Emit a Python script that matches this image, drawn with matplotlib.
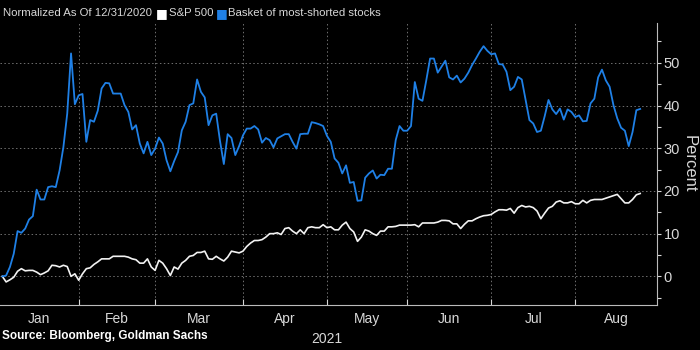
import matplotlib.pyplot as plt
import numpy as np

# normalized % change since 12/31/2020, one value per weekday
basket = [0, 0.2, 2.2, 5.3, 10.6, 10.2, 11.2, 13.3, 14.1, 20.3,
          18.0, 18.0, 20.9, 21.1, 20.9, 24.8, 30.3, 38.1, 52.2, 40.3,
          42.4, 42.7, 31.5, 36.6, 36.2, 38.8, 44.0, 45.3, 45.2, 42.8,
          42.8, 42.8, 40.1, 38.5, 34.4, 35.4, 31.1, 28.8, 31.5, 28.4,
          29.9, 32.5, 31.1, 27.2, 24.6, 27.0, 29.1, 34.2, 36.2, 40.1,
          40.5, 46.1, 43.2, 41.9, 35.4, 37.7, 38.1, 31.7, 26.3, 33.3,
          32.4, 28.4, 30.5, 33.0, 34.6, 34.6, 35.2, 34.4, 31.3, 32.4,
          31.9, 30.2, 32.3, 32.8, 33.3, 33.3, 31.5, 29.9, 33.3, 33.4,
          33.4, 36.1, 35.9, 35.6, 35.2, 32.9, 31.5, 27.6, 26.6, 24.1,
          26.0, 21.9, 22.1, 17.7, 17.8, 23.1, 24.1, 24.8, 22.9, 23.8,
          23.7, 25.2, 25.2, 31.9, 35.2, 34.1, 34.1, 35.2, 45.5, 41.6,
          41.1, 45.9, 51.0, 51.0, 47.7, 49.1, 50.5, 46.6, 46.1, 47.0,
          45.4, 46.3, 47.7, 49.5, 51.0, 52.6, 53.9, 52.8, 52.0, 52.2,
          49.7, 49.6, 47.9, 43.6, 44.4, 46.7, 46.1, 41.4, 36.6, 35.8,
          33.8, 34.1, 37.5, 41.3, 39.1, 38.0, 39.3, 36.7, 39.1, 38.5,
          37.3, 37.7, 36.3, 36.4, 40.5, 41.6, 46.6, 48.4, 45.9, 44.4,
          40.1, 37.0, 34.8, 34.1, 30.5, 33.8, 38.9, 39.2]

spx = [0, -1.3, -0.8, -0.2, 1.2, 1.8, 1.3, 1.4, 1.4, 1.0,
       0.4, 0.8, 1.3, 2.6, 2.5, 2.2, 2.6, 2.3, 0.0, 0.6,
       -0.9, 0.6, 1.8, 2.0, 2.8, 3.4, 4.1, 4.1, 4.1, 4.7,
       4.7, 4.7, 4.7, 4.5, 4.1, 3.9, 3.1, 3.1, 4.1, 2.2,
       1.4, 3.75, 3.1, 1.8, 0.2, 2.2, 1.7, 3.1, 3.75, 4.7,
       4.9, 5.6, 5.6, 5.9, 4.1, 4.0, 4.7, 4.1, 3.6, 4.5,
       5.9, 5.7, 5.5, 5.9, 7.0, 7.8, 8.4, 8.4, 8.6, 9.2,
       10.0, 10.0, 10.2, 9.8, 11.2, 11.4, 10.6, 10.0, 10.9, 10.0,
       11.4, 11.6, 11.4, 11.4, 12.1, 11.4, 11.6, 10.9, 10.9, 12.0,
       12.7, 11.2, 10.4, 8.2, 9.2, 10.9, 10.6, 10.0, 9.6, 10.6,
       10.6, 11.6, 11.6, 11.7, 12.0, 12.0, 12.0, 12.0, 12.1, 11.6,
       12.5, 12.5, 12.5, 12.5, 12.7, 13.1, 13.1, 13.0, 12.3, 12.3,
       11.2, 12.2, 13.0, 13.0, 13.5, 13.9, 14.2, 14.3, 14.5, 15.1,
       15.6, 15.6, 15.5, 15.9, 14.8, 16.1, 16.6, 16.25, 16.4, 16.1,
       15.3, 13.5, 14.8, 16.0, 16.4, 17.4, 17.7, 17.2, 17.2, 17.5,
       17.0, 17.0, 17.8, 17.2, 17.8, 18.0, 18.0, 18.0, 18.3, 18.6,
       18.9, 19.2, 18.2, 17.2, 17.2, 18.0, 19.1, 19.4]

months = ['Jan', 'Feb', 'Mar', 'Apr', 'May', 'Jun', 'Jul', 'Aug']
month_edges = [-0.6, 20, 40, 63, 85, 106, 128, 150, 171.3]

plt.rcParams['font.family'] = ['Liberation Sans', 'DejaVu Sans']
fg = '#d8d8d8'
blue = '#1f80e6'

fig = plt.figure(figsize=(7, 3.5), dpi=100, facecolor='black')
ax = fig.add_axes([0, 0.1286, 0.938, 0.8054], facecolor='black')

x = np.arange(len(basket))
ax.plot(x, spx, color='#f2f2f2', lw=1.2)
ax.plot(x, basket, color=blue, lw=1.3)

ax.set_xlim(month_edges[0], month_edges[-1])
ax.set_ylim(-6.7, 59.3)

# y axis on the right
ax.yaxis.tick_right()
ax.yaxis.set_label_position('right')
ax.set_yticks([0, 10, 20, 30, 40, 50])
ax.set_yticks([-5, 5, 15, 25, 35, 45, 55], minor=True)
ax.tick_params(axis='y', which='both', colors=fg, labelsize=10.5, length=3,
               width=0.8, pad=2)
ax.set_ylabel('Percent', color=fg, fontsize=12, rotation=270, labelpad=12)

# months: ticks at boundaries, labels in the middle
edges = np.array(month_edges)
ax.set_xticks(edges[1:-1])
ax.set_xticklabels([])
ax.set_xticks((edges[:-1] + edges[1:]) / 2, minor=True)
ax.set_xticklabels(months, minor=True)
ax.tick_params(axis='x', which='major', direction='in', length=4, colors=fg)
ax.tick_params(axis='x', which='minor', length=0, colors=fg, labelsize=10, pad=5)
ax.set_xlabel('2021', color=fg, fontsize=10, labelpad=2)
ax.xaxis.set_label_coords(327 / 656.7, -0.095)

ax.grid(True, which='major', color='#707070', ls=(0, (1.5, 2.5)), lw=0.7)

for s in ['left', 'top']:
    ax.spines[s].set_visible(False)
ax.spines['right'].set_color('#bbbbbb')
ax.spines['bottom'].set_color('#bbbbbb')

# header legend
fig.text(0.004, 0.962, 'Normalized As Of 12/31/2020', color=fg, fontsize=8.2, va='center')
fig.text(0.223, 0.962, '\u25A0', color='white', fontsize=9, va='center',
         family='DejaVu Sans')
fig.text(0.241, 0.962, 'S&P 500', color=fg, fontsize=8.2, va='center')
fig.text(0.308, 0.962, '\u25A0', color=blue, fontsize=9, va='center',
         family='DejaVu Sans')
fig.text(0.325, 0.962, 'Basket of most-shorted stocks', color=fg, fontsize=8.2, va='center')

fig.text(0.003, 0.022, 'Source: Bloomberg, Goldman Sachs', color='white',
         fontsize=8.5, fontweight='bold', va='bottom')

fig.savefig('out.png', dpi=100, facecolor='black')
